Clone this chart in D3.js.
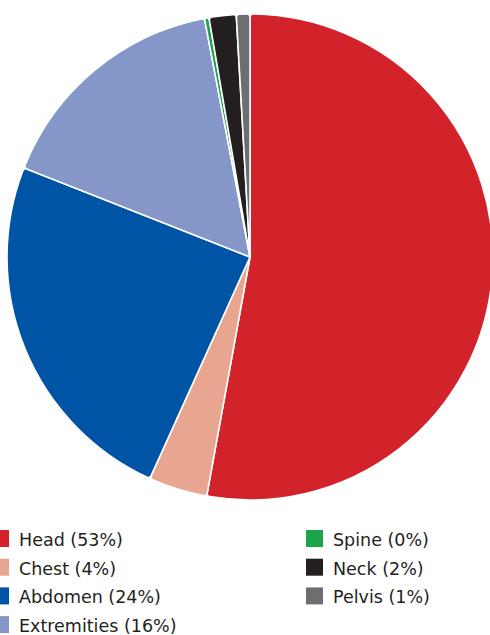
<!DOCTYPE html>
<html>
<head>
<meta charset="utf-8">
<script src="https://cdn.jsdelivr.net/npm/d3@7"></script>
<style>
  body { margin: 0; background: #fff; overflow: hidden; }
</style>
</head>
<body>
<div id="chart"></div>
<script>
// regions and their share of injuries (%), clockwise from 12 o'clock
var regions = ["Head", "Chest", "Abdomen", "Extremities", "Spine", "Neck", "Pelvis"];
var shares = [52.8, 3.9, 24.2, 16.0, 0.3, 1.8, 0.9];
var labels = ["Head (53%)", "Chest (4%)", "Abdomen (24%)", "Extremities (16%)",
              "Spine (0%)", "Neck (2%)", "Pelvis (1%)"];
var colors = ["#d2232a", "#e8a58f", "#0054a6", "#8596c9", "#1ba548", "#231f20", "#6d6e71"];

var width = 490, height = 635;
var cx = 250, cy = 257, radius = 243;

var svg = d3.select("#chart")
    .append("svg")
    .attr("width", width)
    .attr("height", height);

var color = d3.scaleOrdinal().domain(regions).range(colors);

var pie = d3.pie()
    .value(function (d, i) { return shares[i]; })
    .sort(null);

var arc = d3.arc()
    .innerRadius(0)
    .outerRadius(radius)
    .cornerRadius(3);

svg.append("g")
    .attr("transform", "translate(" + cx + "," + cy + ")")
    .selectAll("path")
    .data(pie(regions))
    .enter().append("path")
    .attr("d", arc)
    .attr("fill", function (d) { return color(d.data); })
    .attr("stroke", "#fff")
    .attr("stroke-width", 1.6)
    .attr("stroke-linejoin", "round");

// legend: two columns, 4 + 3 rows
var legend = svg.append("g");
var rowH = 28.7, colX = [-8, 306], legendTop = 530, box = 17;

var item = legend.selectAll(".item")
    .data(regions)
    .enter().append("g")
    .attr("class", "item")
    .attr("transform", function (d, i) {
        var col = i < 4 ? 0 : 1, row = i < 4 ? i : i - 4;
        return "translate(" + colX[col] + "," + (legendTop + row * rowH) + ")";
    });

item.append("rect")
    .attr("width", box)
    .attr("height", box)
    .attr("fill", function (d) { return color(d); });

item.append("text")
    .attr("x", box + 10)
    .attr("y", 16)
    .attr("font-family", "'DejaVu Sans', sans-serif")
    .attr("font-size", 17.5)
    .attr("fill", "#231f20")
    .text(function (d, i) { return labels[i]; });
</script>
</body>
</html>
